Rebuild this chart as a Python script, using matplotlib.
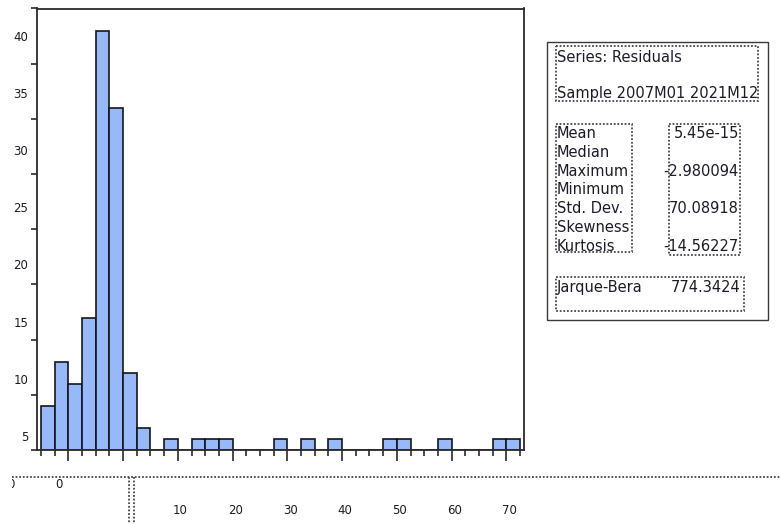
import numpy as np
import matplotlib
matplotlib.use('Agg')
import matplotlib.pyplot as plt
from matplotlib.patches import Rectangle
from matplotlib.transforms import Bbox, blended_transform_factory

#histogram of the residuals, bins of width 2.5 starting at -15
bin_w = 2.5
bin_left = np.arange(-15, 72.5, bin_w)
counts = [4, 8, 6, 12, 38, 31, 7, 2, 0, 1, 0, 1, 1, 1, 0, 0, 0, 1, 0, 1,
          0, 1, 0, 0, 0, 1, 1, 0, 0, 1, 0, 0, 0, 1, 1]

ytick_vals = [5, 10, 15, 20, 25, 30, 35, 40]
xlab_vals = [10, 20, 30, 40, 50, 60, 70]

#stats box text
series_txt = 'Series: Residuals'
sample_txt = 'Sample 2007M01 2021M12'
stat_names = ['Mean', 'Median', 'Maximum', 'Minimum', 'Std. Dev.', 'Skewness', 'Kurtosis']
stat_vals = ['5.45e-15', '', '-2.980094', '', '70.08918', '', '-14.56227']
jb_name = 'Jarque-Bera'
jb_val = '774.3424'

txtc = '#1c1c28'
edgec = '#2a2a2a'
dotc = '#484848'
plt.rcParams['font.family'] = ['DejaVu Sans']

W, H = 780, 524
fig = plt.figure(figsize=(W/100, H/100), dpi=100)

#main histogram axes (pixel box 36.7..524 x 8.5..450)
ax = fig.add_axes([36.7/W, (H-450)/H, (524-36.7)/W, (450-8.5)/H])
ax.bar(bin_left, counts, width=bin_w, align='edge', color='#97B9FA',
       edgecolor='#161616', linewidth=1.2, zorder=2)
ax.set_xlim(-15 - 0.314*bin_w, -15 + 35.29*bin_w)
ax.set_ylim(0, 40)
for s in ax.spines.values():
    s.set_color(edgec)
    s.set_linewidth(1.3)

#x ticks: long every 10, short at every bin edge, no labels on this axis
ax.set_xticks(np.arange(-10, 71, 10))
ax.set_xticks(np.arange(-15, 72.6, bin_w), minor=True)
ax.tick_params(axis='x', which='major', length=7.9, width=1.2, color=edgec, labelbottom=False)
ax.tick_params(axis='x', which='minor', length=4.3, width=1.2, color=edgec)

#y ticks: marks every 5, labels sit a bit off from the marks like the original
ax.set_yticks(np.arange(0, 41, 5), minor=True)
ax.set_yticks([v*1.034 - 3.87 for v in ytick_vals])
ax.set_yticklabels([str(v) for v in ytick_vals])
ax.tick_params(axis='y', which='minor', length=4.3, width=1.2, color=edgec)
ax.tick_params(axis='y', which='major', length=0, pad=6, labelsize=8.5, labelcolor=txtc)

#overlay in pixel coords for the box and the detached axis strip
ov = fig.add_axes([0, 0, 1, 1])
ov.set_xlim(0, W)
ov.set_ylim(H, 0)
ov.axis('off')
ov.patch.set_alpha(0)

ov.add_patch(Rectangle((547.3, 42.3), 221, 277.7, fill=False, edgecolor='#3a3a3a', linewidth=1.0))
dot = dict(fill=False, edgecolor=dotc, linewidth=1.3, linestyle=(0, (1, 1)))
ov.add_patch(Rectangle((556, 45.7), 202.3, 55.3, **dot))
ov.add_patch(Rectangle((556, 124), 75.7, 128.3, **dot))
ov.add_patch(Rectangle((669.3, 124), 70.7, 130.5, **dot))
ov.add_patch(Rectangle((556, 276.7), 188, 34.3, **dot))

fs = 10.5
ov.text(557, 56, series_txt, fontsize=fs, color=txtc, va='center_baseline')
ov.text(557, 92.3, sample_txt, fontsize=fs, color=txtc, va='center_baseline')
for i, (nm, vl) in enumerate(zip(stat_names, stat_vals)):
    y = 132 + 18.8*i
    ov.text(557, y, nm, fontsize=fs, color=txtc, va='center_baseline')
    if vl:
        ov.text(739, y, vl, fontsize=fs, color=txtc, va='center_baseline', ha='right')
ov.text(557, 286, jb_name, fontsize=fs, color=txtc, va='center_baseline')
ov.text(740, 286, jb_val, fontsize=fs, color=txtc, va='center_baseline', ha='right')

#detached x axis strip
ov.plot([11.7, W], [477.3, 477.3], color=dotc, linewidth=1.3, linestyle=(0, (1, 1)))
ov.plot([129.3, 129.3], [477.3, H], color=dotc, linewidth=1.3, linestyle=(0, (1, 1)))
ov.plot([134, 134], [477.3, H], color=dotc, linewidth=1.3, linestyle=(0, (1, 1)))
ov.text(58.8, 483.5, '0', fontsize=8.5, color=txtc, ha='center', va='center_baseline')
cut = ov.text(10.5, 483.5, '0', fontsize=8.5, color=txtc, ha='center', va='center_baseline')
cut.set_clip_box(Bbox.from_extents(11.7, 0, W, H))
cut.set_clip_on(True)

trans = blended_transform_factory(ax.transData, ov.transData)
for v in xlab_vals:
    ov.text(v + 0.5, 509.5, str(v), transform=trans, fontsize=8.5, color=txtc,
            ha='center', va='center_baseline')

fig.savefig('out.png', dpi=100)
